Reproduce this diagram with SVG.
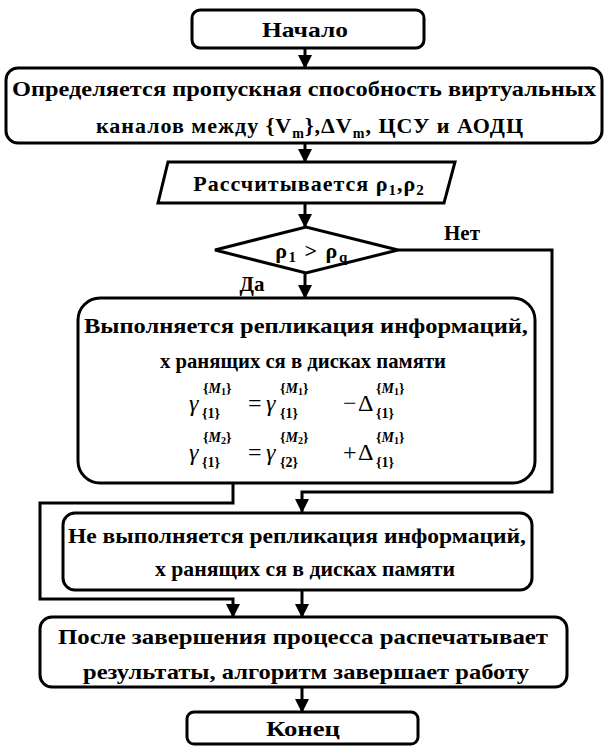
<svg xmlns="http://www.w3.org/2000/svg" width="605" height="746" viewBox="0 0 605 746">
<defs>
<marker id="ah" markerWidth="14" markerHeight="14" viewBox="0 0 14 14" refX="13" refY="7" orient="auto" markerUnits="userSpaceOnUse">
<path d="M0,0 L14,7 L0,14 Z" fill="#000"/>
</marker>
<style>
.box{fill:#fff;stroke:#000;stroke-width:3}
.t{font-family:"Liberation Serif","Times New Roman",serif;font-weight:bold;font-size:22px;fill:#000;text-anchor:middle}
.lb{font-family:"Liberation Serif","Times New Roman",serif;font-weight:bold;font-size:21px;fill:#000;text-anchor:middle}
.f{font-family:"Liberation Serif","Times New Roman",serif;font-size:24px;fill:#000}
.fi{font-family:"Liberation Serif","Times New Roman",serif;font-style:italic;font-size:24px;fill:#000}
.s{font-family:"Liberation Serif","Times New Roman",serif;font-weight:bold;font-size:14px;fill:#000}
.c{fill:none;stroke:#000;stroke-width:3}
</style>
</defs>
<rect width="605" height="746" fill="#fff"/>

<g id="connectors">
<line class="c" x1="305" y1="48" x2="305" y2="68" marker-end="url(#ah)"/>
<line class="c" x1="305" y1="143" x2="305" y2="162" marker-end="url(#ah)"/>
<line class="c" x1="305" y1="203" x2="305" y2="227" marker-end="url(#ah)"/>
<line class="c" x1="305" y1="273" x2="305" y2="298" marker-end="url(#ah)"/>
<polyline class="c" points="398,250 552,250 552,492 302,492 302,512" marker-end="url(#ah)"/>
<polyline class="c" points="233,483 233,503 40,503 40,599 233,599 233,617" marker-end="url(#ah)"/>
<line class="c" x1="302" y1="590" x2="302" y2="617" marker-end="url(#ah)"/>
<line class="c" x1="302" y1="687" x2="302" y2="712" marker-end="url(#ah)"/>
<text class="lb" x="462" y="240">Нет</text>
<text class="lb" x="252" y="291">Да</text>
</g>

<g id="start">
<rect class="box" x="192" y="10" width="232" height="38" rx="8"/>
<text class="t" x="305" y="37" textLength="86" lengthAdjust="spacingAndGlyphs">Начало</text>
</g>

<g id="define">
<rect class="box" x="6" y="68" width="596" height="75" rx="12"/>
<text class="t" x="304" y="96" textLength="584" lengthAdjust="spacingAndGlyphs">Определяется пропускная способность виртуальных</text>
<text class="t" x="310" y="133" letter-spacing="1">каналов между {V<tspan font-size="14" baseline-shift="-5">m</tspan>},ΔV<tspan font-size="14" baseline-shift="-5">m</tspan>, ЦСУ и АОДЦ</text>
</g>

<g id="calc">
<polygon class="box" points="168,162 455,162 444,203 158,203"/>
<text class="t" x="309" y="191" letter-spacing="1">Рассчитывается ρ<tspan font-size="15" baseline-shift="-4">1</tspan>,ρ<tspan font-size="15" baseline-shift="-4">2</tspan></text>
</g>

<g id="decision">
<polygon class="box" points="215,250 306,227 398,250 306,273"/>
<text class="t" x="312" y="258" letter-spacing="1.5">ρ<tspan font-size="15" baseline-shift="-4">1</tspan> &gt; ρ<tspan font-size="15" baseline-shift="-4">q</tspan></text>
</g>

<g id="replicate">
<rect class="box" x="78" y="298" width="457" height="185" rx="22"/>
<text class="t" x="306" y="333" textLength="444" lengthAdjust="spacingAndGlyphs">Выполняется репликация информаций,</text>
<text class="t" x="303" y="368" textLength="286" lengthAdjust="spacingAndGlyphs">х ранящих ся в дисках памяти</text>
<text class="fi" x="189" y="411">γ</text>
<text class="s" x="203" y="393">{<tspan font-style="italic">M</tspan><tspan font-size="10" baseline-shift="-2">1</tspan>}</text>
<text class="s" x="202" y="418">{1}</text>
<text class="f" x="248" y="411">=</text>
<text class="fi" x="266" y="411">γ</text>
<text class="s" x="280" y="393">{<tspan font-style="italic">M</tspan><tspan font-size="10" baseline-shift="-2">1</tspan>}</text>
<text class="s" x="280" y="418">{1}</text>
<text class="f" x="343" y="411">−</text>
<text class="f" x="358" y="411">Δ</text>
<text class="s" x="376" y="393">{<tspan font-style="italic">M</tspan><tspan font-size="10" baseline-shift="-2">1</tspan>}</text>
<text class="s" x="376" y="418">{1}</text>
<text class="fi" x="189" y="460">γ</text>
<text class="s" x="203" y="442">{<tspan font-style="italic">M</tspan><tspan font-size="10" baseline-shift="-2">2</tspan>}</text>
<text class="s" x="202" y="467">{1}</text>
<text class="f" x="248" y="460">=</text>
<text class="fi" x="266" y="460">γ</text>
<text class="s" x="280" y="442">{<tspan font-style="italic">M</tspan><tspan font-size="10" baseline-shift="-2">2</tspan>}</text>
<text class="s" x="280" y="467">{2}</text>
<text class="f" x="343" y="460">+</text>
<text class="f" x="358" y="460">Δ</text>
<text class="s" x="376" y="442">{<tspan font-style="italic">M</tspan><tspan font-size="10" baseline-shift="-2">1</tspan>}</text>
<text class="s" x="376" y="467">{1}</text>
</g>

<g id="noreplicate">
<rect class="box" x="63" y="513" width="469" height="77" rx="12"/>
<text class="t" x="297" y="543" textLength="458" lengthAdjust="spacingAndGlyphs">Не выполняется репликация информаций,</text>
<text class="t" x="305" y="576" textLength="300" lengthAdjust="spacingAndGlyphs">х ранящих ся в дисках памяти</text>
</g>

<g id="finish">
<rect class="box" x="40" y="617" width="527" height="70" rx="12"/>
<text class="t" x="303" y="644" textLength="490" lengthAdjust="spacingAndGlyphs">После завершения процесса распечатывает</text>
<text class="t" x="306" y="679" textLength="446" lengthAdjust="spacingAndGlyphs">результаты, алгоритм завершает работу</text>
</g>

<g id="end">
<rect class="box" x="187" y="712" width="231" height="32" rx="7"/>
<text class="t" x="303" y="736" textLength="74" lengthAdjust="spacingAndGlyphs">Конец</text>
</g>
</svg>
